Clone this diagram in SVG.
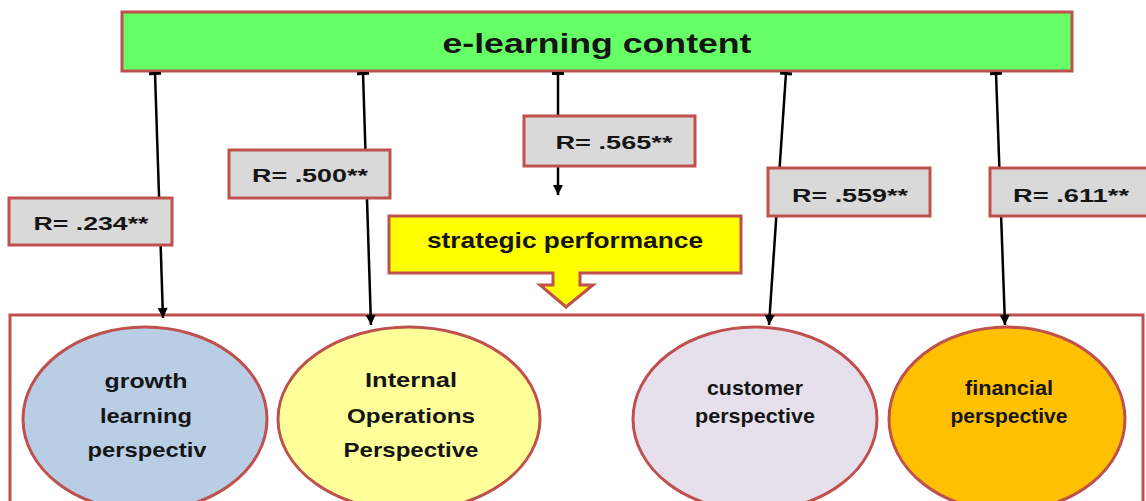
<svg xmlns="http://www.w3.org/2000/svg" width="1146" height="501" viewBox="0 0 1146 501">
<style>
.b{stroke:#c0504d;stroke-width:3}
.t{font-family:"Liberation Sans",Arial,sans-serif;font-weight:bold;fill:#151515;text-anchor:middle}
.r{font-size:18px}
.e{font-size:21px}
.c{stroke:#000;stroke-width:2.5;fill:none;marker-start:url(#tee);marker-end:url(#arr)}
</style>
<defs>
<marker id="arr" markerUnits="userSpaceOnUse" markerWidth="14" markerHeight="14" viewBox="0 0 14 14" refX="12" refY="7" orient="auto">
<path d="M2,2 L12,7 L2,12 Z" fill="#000"/>
</marker>
<marker id="tee" markerUnits="userSpaceOnUse" markerWidth="6" markerHeight="14" viewBox="0 0 6 14" refX="1" refY="7" orient="auto">
<rect x="0" y="1" width="3" height="12" fill="#000"/>
</marker>
</defs>
<rect width="1146" height="501" fill="#fff"/>
<g id="perspectives-frame"><rect class="b" x="10" y="315" width="1133" height="200" fill="#fff"/></g>
<g id="growth">
<ellipse class="b" cx="145" cy="419" rx="122" ry="92" fill="#b9cde5"/>
<text class="t e" x="146" y="388" textLength="83" lengthAdjust="spacingAndGlyphs">growth</text>
<text class="t e" x="146" y="423" textLength="92" lengthAdjust="spacingAndGlyphs">learning</text>
<text class="t e" x="147" y="457" textLength="119" lengthAdjust="spacingAndGlyphs">perspectiv</text>
</g>
<g id="internal">
<ellipse class="b" cx="409" cy="419" rx="131" ry="92" fill="#ffff99"/>
<text class="t e" x="411" y="387" textLength="92" lengthAdjust="spacingAndGlyphs">Internal</text>
<text class="t e" x="411" y="423" textLength="128" lengthAdjust="spacingAndGlyphs">Operations</text>
<text class="t e" x="411" y="457" textLength="135" lengthAdjust="spacingAndGlyphs">Perspective</text>
</g>
<g id="customer">
<ellipse class="b" cx="755" cy="419" rx="122" ry="92" fill="#e6e0ec"/>
<text class="t e" x="755" y="395" textLength="96" lengthAdjust="spacingAndGlyphs">customer</text>
<text class="t e" x="755" y="423" textLength="120" lengthAdjust="spacingAndGlyphs">perspective</text>
</g>
<g id="financial">
<ellipse class="b" cx="1007" cy="419" rx="118" ry="92" fill="#ffc000"/>
<text class="t e" x="1009" y="395" textLength="88" lengthAdjust="spacingAndGlyphs">financial</text>
<text class="t e" x="1009" y="423" textLength="117" lengthAdjust="spacingAndGlyphs">perspective</text>
</g>
<g id="elearning">
<rect class="b" x="122" y="12" width="950" height="59" fill="#66ff66"/>
<text class="t" x="597" y="53" font-size="28" textLength="309" lengthAdjust="spacingAndGlyphs">e-learning content</text>
</g>
<g id="strategic">
<path class="b" d="M389,216 H741 V273 H580 V285 H593 L566,307 L540,285 H553 V273 H389 Z" fill="#ffff00"/>
<text class="t" x="565" y="248" font-size="22" textLength="276" lengthAdjust="spacingAndGlyphs">strategic performance</text>
</g>
<g id="connectors">
<line class="c" x1="155" y1="73" x2="163" y2="318"/>
<line class="c" x1="363" y1="73" x2="371" y2="325"/>
<line class="c" x1="558" y1="73" x2="558" y2="195"/>
<line class="c" x1="786" y1="73" x2="769" y2="325"/>
<line class="c" x1="996" y1="73" x2="1005" y2="325"/>
</g>
<g id="label-234">
<rect class="b" x="9" y="198" width="163" height="47" fill="#d9d9d9"/>
<text class="t r" x="91" y="230" textLength="115" lengthAdjust="spacingAndGlyphs">R= .234**</text>
</g>
<g id="label-500">
<rect class="b" x="229" y="150" width="161" height="48" fill="#d9d9d9"/>
<text class="t r" x="310" y="182" textLength="116" lengthAdjust="spacingAndGlyphs">R= .500**</text>
</g>
<g id="label-565">
<rect class="b" x="524" y="116" width="171" height="50" fill="#d9d9d9"/>
<text class="t r" x="614" y="149" textLength="117" lengthAdjust="spacingAndGlyphs">R= .565**</text>
</g>
<g id="label-559">
<rect class="b" x="768" y="168" width="162" height="48" fill="#d9d9d9"/>
<text class="t r" x="850" y="202" textLength="116" lengthAdjust="spacingAndGlyphs">R= .559**</text>
</g>
<g id="label-611">
<rect class="b" x="990" y="168" width="170" height="48" fill="#d9d9d9"/>
<text class="t r" x="1071" y="202" textLength="116" lengthAdjust="spacingAndGlyphs">R= .611**</text>
</g>
</svg>
